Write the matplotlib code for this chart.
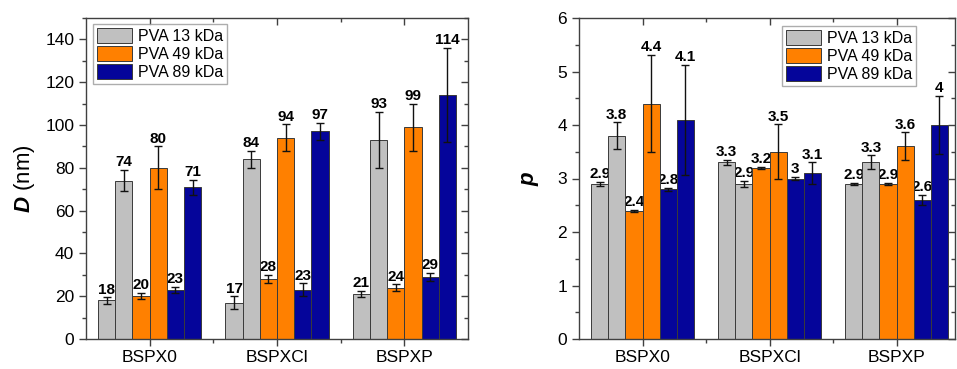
import numpy as np
import matplotlib.pyplot as plt
from matplotlib.ticker import MultipleLocator, FixedLocator

plt.rcParams['font.family'] = ['Liberation Sans', 'DejaVu Sans']
plt.rcParams['mathtext.fontset'] = 'custom'
plt.rcParams['mathtext.bfit'] = 'Liberation Sans:bold:italic'
plt.rcParams['mathtext.it'] = 'Liberation Sans:italic'

groups = ['BSPX0', 'BSPXCl', 'BSPXP']
series = ['PVA 13 kDa', 'PVA 49 kDa', 'PVA 89 kDa']
colors = ['#C0C0C0', '#FF8000', '#05059A']

# D (nm): per group, two bars per PVA series (small, large)
D_vals = [[18, 74, 20, 80, 23, 71],
          [17, 84, 28, 94, 23, 97],
          [21, 93, 24, 99, 29, 114]]
D_errs = [[1.5, 5, 1.5, 10, 1.5, 3.5],
          [3, 4, 2, 6.3, 3, 4],
          [1.5, 13, 1.5, 11, 2, 22]]
D_labels = [['18', '74', '20', '80', '23', '71'],
            ['17', '84', '28', '94', '23', '97'],
            ['21', '93', '24', '99', '29', '114']]

p_vals = [[2.9, 3.8, 2.4, 4.4, 2.8, 4.1],
          [3.3, 2.9, 3.2, 3.5, 3.0, 3.1],
          [2.9, 3.3, 2.9, 3.6, 2.6, 4.0]]
p_errs = [[0.04, 0.25, 0.02, 0.91, 0.03, 1.03],
          [0.05, 0.05, 0.02, 0.51, 0.03, 0.2],
          [0.02, 0.13, 0.02, 0.26, 0.09, 0.55]]
p_labels = [['2.9', '3.8', '2.4', '4.4', '2.8', '4.1'],
            ['3.3', '2.9', '3.2', '3.5', '3', '3.1'],
            ['2.9', '3.3', '2.9', '3.6', '2.6', '4']]

W = 0.135
spine_c = '#404040'


def draw(ax, vals, errs, labels, ymax, major, minor, xright):
    x = np.arange(1, len(groups) + 1)
    for g in range(len(groups)):
        for k in range(6):
            xc = x[g] + (k - 2.5) * W
            ax.bar(xc, vals[g][k], W, color=colors[k // 2], edgecolor='#3a3a3a',
                   linewidth=0.7, zorder=2,
                   label=series[k // 2] if (g == 0 and k % 2 == 0) else None)
            ax.errorbar(xc, vals[g][k], yerr=errs[g][k], color='#111111', lw=1.0,
                        capsize=3, capthick=1.0, zorder=3)
            ax.annotate(labels[g][k], (xc, vals[g][k] + errs[g][k]), xytext=(0, 0.5),
                        textcoords='offset points', ha='center', va='bottom',
                        fontsize=11, fontweight='bold', zorder=1)
    ax.set_xlim(0.5, xright)
    ax.set_ylim(0, ymax)
    ax.set_xticks(x)
    ax.set_xticklabels(groups, fontsize=12.5)
    ax.xaxis.set_minor_locator(FixedLocator([1.5, 2.5]))
    ax.yaxis.set_major_locator(MultipleLocator(major))
    ax.yaxis.set_minor_locator(MultipleLocator(minor))
    ax.tick_params(axis='y', labelsize=12.5)
    for s in ax.spines.values():
        s.set_color(spine_c)
        s.set_linewidth(1.0)
    ax.tick_params(which='both', color=spine_c, width=1.0)
    ax.tick_params(which='major', length=5)
    ax.tick_params(which='minor', length=3)
    ax.tick_params(axis='x', which='both', top=True, pad=3)
    ax.tick_params(axis='y', which='both', right=True)
    # top / right ticks point inward, bottom / left outward
    for t in ax.xaxis.get_major_ticks() + ax.xaxis.get_minor_ticks():
        t.tick2line.set_marker(3)
    for t in ax.yaxis.get_major_ticks() + ax.yaxis.get_minor_ticks():
        t.tick2line.set_marker(0)


fig = plt.figure(figsize=(9.57, 3.69), dpi=100)
ax1 = fig.add_axes([86 / 957, 30 / 369, 382 / 957, 321 / 369])
ax2 = fig.add_axes([579 / 957, 30 / 369, 376 / 957, 321 / 369])

draw(ax1, D_vals, D_errs, D_labels, 150, 20, 10, 3.5)
draw(ax2, p_vals, p_errs, p_labels, 6, 1, 0.5, 3.46)

ax1.set_ylabel(r'$\mathbfit{D}$ (nm)', fontsize=16, labelpad=6)
ax2.set_ylabel(r'$\mathbfit{p}$', fontsize=16, labelpad=12)

leg_kw = dict(fontsize=11.5, frameon=True, fancybox=False, edgecolor='#999999',
              handlelength=2.2, handleheight=1.1, labelspacing=0.12,
              handletextpad=0.35, borderpad=0.25, borderaxespad=0)
l1 = ax1.legend(loc='upper left', bbox_to_anchor=(0.018, 0.981), **leg_kw)
l2 = ax2.legend(loc='upper right', bbox_to_anchor=(0.896, 0.975), **leg_kw)
for l in (l1, l2):
    l.get_frame().set_linewidth(1.0)

fig.savefig('out.png', dpi=100)
